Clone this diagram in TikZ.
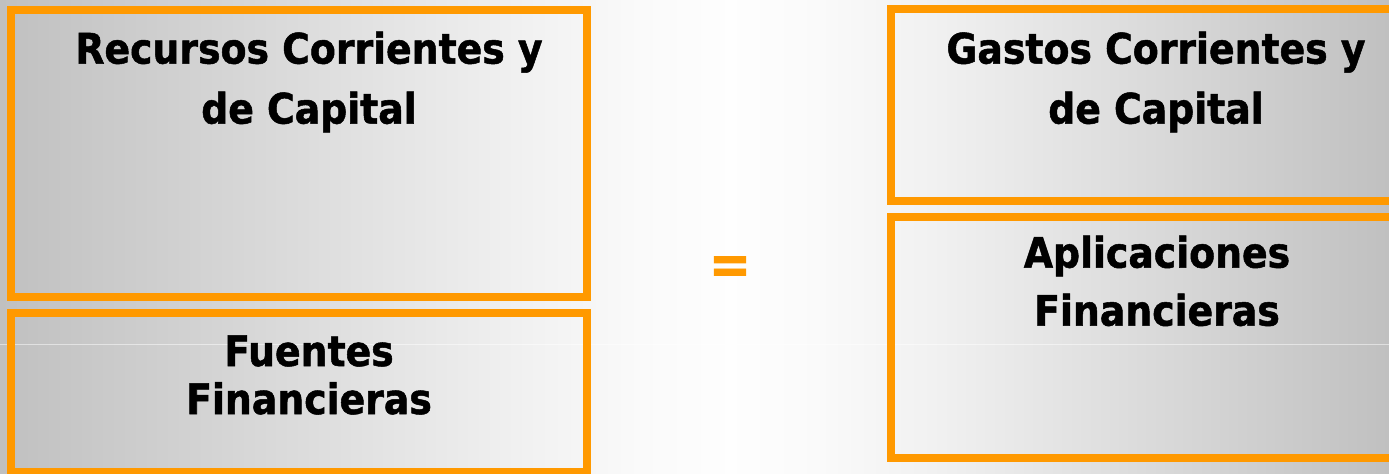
\documentclass[tikz,border=0pt]{standalone}
\usepackage{fontspec}
\usepackage{tikz}
\newfontfamily\boxfont[FakeBold=1.2]{DejaVu Sans Condensed}
\definecolor{naranja}{RGB}{255,153,0}
\definecolor{fondo}{RGB}{192,192,192}
\pgfdeclarehorizontalshading{fondoshade}{100bp}{color(0bp)=(fondo); color(25bp)=(fondo);
	color(35.8bp)=(fondo!56!white); color(44bp)=(fondo!22!white); color(48bp)=(fondo!8!white);
	color(51.3bp)=(fondo!2!white); color(54.5bp)=(fondo!8!white); color(58.5bp)=(fondo!22!white);
	color(64.6bp)=(fondo!50!white); color(75bp)=(fondo); color(100bp)=(fondo)}

\begin{document}
\begin{tikzpicture}[x=0.5pt,y=0.5pt]
			\tikzstyle{every node}+=[inner sep=0pt]
			\tikzstyle{caja}=[naranja, line width=4pt]
			\tikzstyle{rotulo}=[align=center, font=\boxfont\bfseries\fontsize{21}{30}\selectfont]
			\useasboundingbox (0,0) rectangle (1389,-474);
			\shade [shading=fondoshade] (0,0) rectangle (1389,-474);
			\draw [white, opacity=0.5, line width=0.5pt] (0,-345) -- (1389,-345);
			\clip (0,0) rectangle (1389,-474);
			\draw [caja] (11,-10) rectangle (587,-297);
			\draw (309,-82) node (recursos) [rotulo] {Recursos Corrientes y\\de Capital};
			\draw [caja] (11,-313) rectangle (587,-472);
			\draw (309,-375) node (fuentes) [rotulo, font=\boxfont\bfseries\fontsize{21}{24}\selectfont] {Fuentes\\Financieras};
			\draw (730,-270) node (igual) [naranja, font=\boxfont\bfseries\fontsize{28}{28}\selectfont] {=};
			\draw [caja] (891,-9) rectangle (1400,-201);
			\draw (1156,-82) node (gastos) [rotulo] {Gastos Corrientes y\\de Capital};
			\draw [caja] (891,-217) rectangle (1400,-458);
			\draw (1157,-281) node (aplicaciones) [rotulo, font=\boxfont\bfseries\fontsize{21}{29}\selectfont] {Aplicaciones\\Financieras};
		\end{tikzpicture}
\end{document}
